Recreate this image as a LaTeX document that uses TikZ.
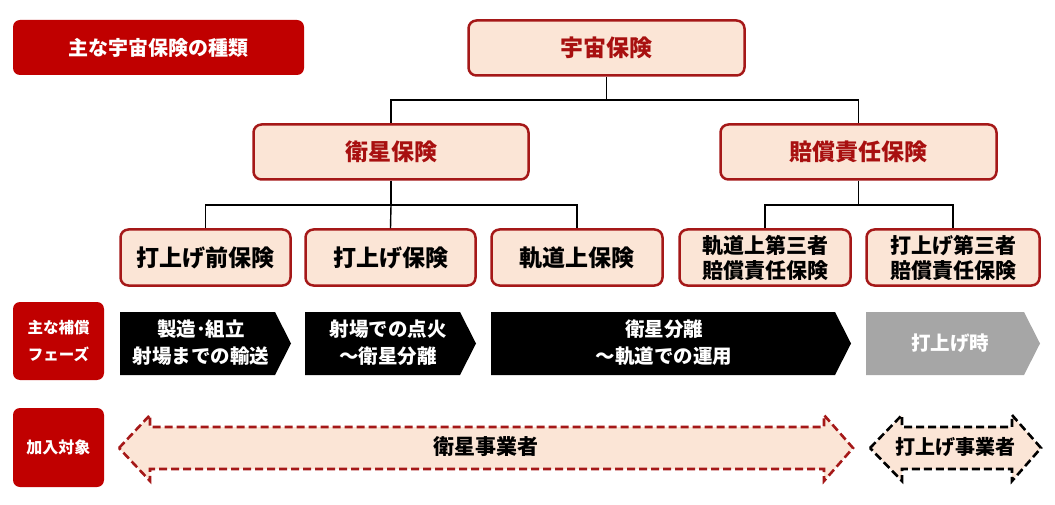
\documentclass[tikz,border=0pt]{standalone}
\usepackage{fontspec}
\setmainfont{Noto Sans CJK JP}
\definecolor{cred}{HTML}{C00000}
\definecolor{cpink}{HTML}{FBE5D6}
\definecolor{cborder}{HTML}{A51818}
\definecolor{ctext}{HTML}{A81010}
\definecolor{cgray}{HTML}{A6A6A6}
\tikzset{
  fs/.style 2 args={font=\bfseries\fontsize{#1}{#2}\selectfont},
  redlabel/.style={fill=cred, rounded corners=7pt, text=white, align=center, inner sep=0pt},
  pinkbox/.style={fill=cpink, draw=cborder, line width=2.5pt, rounded corners=8pt, align=center, inner sep=0pt, fs={23}{25}},
  topbox/.style={pinkbox, text=ctext, minimum height=55pt},
  leafbox/.style={pinkbox, minimum height=56pt},
  conn/.style={draw=black, line width=1.4pt},
  phasetext/.style={text=white, align=center, fs={19.5}{27}},
  dasharrow/.style={line width=2.6pt, dash pattern=on 8pt off 4pt, fill=cpink},
}
\begin{document}
\begin{tikzpicture}[x=1pt, y=-1pt]
\useasboundingbox (0,0) rectangle (1055,505);
% title
\node[redlabel, fs={20}{24}, minimum width=291pt, minimum height=55pt] (title) at (158.5,47.5) {主な宇宙保険の種類};
% tree
\node[topbox, minimum width=276pt] (root) at (606.5,48) {宇宙保険};
\node[topbox, minimum width=275pt] (sat) at (391,152) {衛星保険};
\node[topbox, minimum width=276pt] (liab) at (858.5,152) {賠償責任保険};
\node[leafbox, minimum width=170pt] (a) at (205.5,257.5) {打上げ前保険};
\node[leafbox, minimum width=170pt] (b) at (390.5,257.5) {打上げ保険};
\node[leafbox, minimum width=171pt] (c) at (577,257.5) {軌道上保険};
\node[leafbox, minimum width=171pt, fs={21}{25}] (d) at (765,257.5) {軌道上第三者\\賠償責任保険};
\node[leafbox, minimum width=173pt, fs={21}{25}] (e) at (953,257.5) {打上げ第三者\\賠償責任保険};
\coordinate (j1) at (606.5,100);
\coordinate (j2) at (391,205);
\coordinate (j3) at (858.5,205);
\draw[conn] (root.south) -- (j1);
\draw[conn] (sat.north) |- (j1) -| (liab.north);
\draw[conn] (sat.south) -- (j2);
\draw[conn] (a.north) |- (j2) -| (c.north);
\draw[conn] (j2) -- (b.north);
\draw[conn] (liab.south) -- (j3);
\draw[conn] (d.north) |- (j3) -| (e.north);
% phase row
\node[redlabel, fs={15.5}{27}, minimum width=91pt, minimum height=78pt] (phase) at (58.5,341) {主な補償\\フェーズ};
\fill[black] (120,312) -- (275,312) -- (291,343.5) -- (275,375) -- (120,375) -- cycle;
\fill[black] (305,312) -- (460,312) -- (476,343.5) -- (460,375) -- (305,375) -- cycle;
\fill[black] (491,312) -- (835,312) -- (851,343.5) -- (835,375) -- (491,375) -- cycle;
\fill[cgray] (866,312) -- (1024,312) -- (1040,343.5) -- (1024,375) -- (866,375) -- cycle;
\node[phasetext] (p1) at (201,343) {製造･組立\\射場までの輸送};
\node[phasetext] (p2) at (388,343) {射場での点火\\～衛星分離};
\node[phasetext] (p3) at (664,343) {衛星分離\\～軌道での運用};
\node[phasetext] (p4) at (950,343.5) {打上げ時};
% target row
\node[redlabel, fs={16}{24}, minimum width=91pt, minimum height=79pt] (target) at (58.5,447.5) {加入対象};
\draw[dasharrow, draw=cborder] (119,448) -- (150,415) -- (150,427) -- (824,427) -- (824,415) -- (853,448) -- (824,481) -- (824,469) -- (150,469) -- (150,481) -- cycle;
\draw[dasharrow, draw=black] (870,448) -- (902,415) -- (902,427) -- (1012,427) -- (1012,415) -- (1041,448) -- (1012,481) -- (1012,469) -- (902,469) -- (902,481) -- cycle;
\node[fs={21}{24}] (t1) at (486,447) {衛星事業者};
\node[fs={20}{24}] (t2) at (955,447) {打上げ事業者};
\end{tikzpicture}
\end{document}
